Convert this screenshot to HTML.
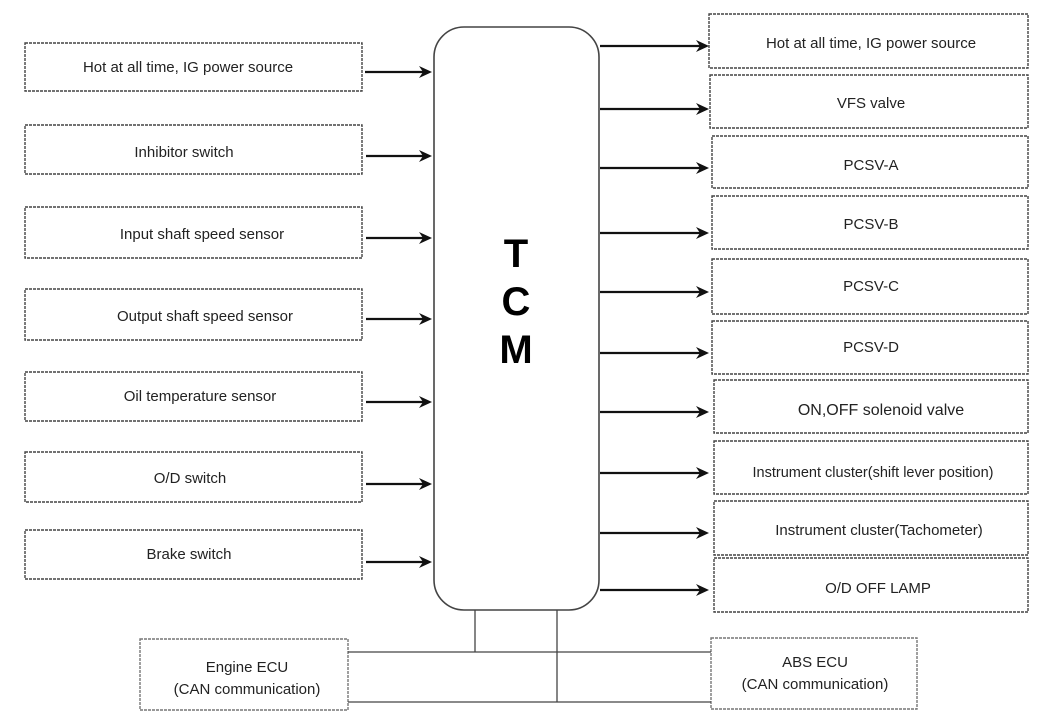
<!DOCTYPE html>
<html><head><meta charset="utf-8"><style>
html,body{margin:0;padding:0;background:#fff;}
svg{display:block;}
text{font-family:"Liberation Sans",Arial,sans-serif;fill:#222;}
</style></head><body>
<svg width="1050" height="721" viewBox="0 0 1050 721" xmlns="http://www.w3.org/2000/svg">
<g fill="#fff" stroke="#444" stroke-width="1.4" stroke-dasharray="3,1">
<rect x="25" y="43" width="337" height="48"/>
<rect x="25" y="125" width="337" height="49"/>
<rect x="25" y="207" width="337" height="51"/>
<rect x="25" y="289" width="337" height="51"/>
<rect x="25" y="372" width="337" height="49"/>
<rect x="25" y="452" width="337" height="50"/>
<rect x="25" y="530" width="337" height="49"/>
<rect x="709" y="14" width="319" height="54"/>
<rect x="710" y="75" width="318" height="53"/>
<rect x="712" y="136" width="316" height="52"/>
<rect x="712" y="196" width="316" height="53"/>
<rect x="712" y="259" width="316" height="55"/>
<rect x="712" y="321" width="316" height="53"/>
<rect x="714" y="380" width="314" height="53"/>
<rect x="714" y="441" width="314" height="53"/>
<rect x="714" y="501" width="314" height="54"/>
<rect x="714" y="558" width="314" height="54"/>
<rect x="140" y="639" width="208" height="71" stroke="#777"/>
<rect x="711" y="638" width="206" height="71" stroke="#777"/>
</g>
<rect x="434" y="27" width="165" height="583" rx="30" ry="30" fill="#fff" stroke="#444" stroke-width="1.6"/>
<g stroke="#111" stroke-width="2.2">
<line x1="365" y1="72" x2="424" y2="72"/>
<line x1="366" y1="156" x2="424" y2="156"/>
<line x1="366" y1="238" x2="424" y2="238"/>
<line x1="366" y1="319" x2="424" y2="319"/>
<line x1="366" y1="402" x2="424" y2="402"/>
<line x1="366" y1="484" x2="424" y2="484"/>
<line x1="366" y1="562" x2="424" y2="562"/>
<line x1="600" y1="46" x2="701" y2="46"/>
<line x1="600" y1="109" x2="701" y2="109"/>
<line x1="600" y1="168" x2="701" y2="168"/>
<line x1="600" y1="233" x2="701" y2="233"/>
<line x1="600" y1="292" x2="701" y2="292"/>
<line x1="600" y1="353" x2="701" y2="353"/>
<line x1="600" y1="412" x2="701" y2="412"/>
<line x1="600" y1="473" x2="701" y2="473"/>
<line x1="600" y1="533" x2="701" y2="533"/>
<line x1="600" y1="590" x2="701" y2="590"/>
</g>
<g fill="#111">
<path d="M432,72 l-13,-6 l4,6 l-4,6 Z"/>
<path d="M432,156 l-13,-6 l4,6 l-4,6 Z"/>
<path d="M432,238 l-13,-6 l4,6 l-4,6 Z"/>
<path d="M432,319 l-13,-6 l4,6 l-4,6 Z"/>
<path d="M432,402 l-13,-6 l4,6 l-4,6 Z"/>
<path d="M432,484 l-13,-6 l4,6 l-4,6 Z"/>
<path d="M432,562 l-13,-6 l4,6 l-4,6 Z"/>
<path d="M709,46 l-13,-6 l4,6 l-4,6 Z"/>
<path d="M709,109 l-13,-6 l4,6 l-4,6 Z"/>
<path d="M709,168 l-13,-6 l4,6 l-4,6 Z"/>
<path d="M709,233 l-13,-6 l4,6 l-4,6 Z"/>
<path d="M709,292 l-13,-6 l4,6 l-4,6 Z"/>
<path d="M709,353 l-13,-6 l4,6 l-4,6 Z"/>
<path d="M709,412 l-13,-6 l4,6 l-4,6 Z"/>
<path d="M709,473 l-13,-6 l4,6 l-4,6 Z"/>
<path d="M709,533 l-13,-6 l4,6 l-4,6 Z"/>
<path d="M709,590 l-13,-6 l4,6 l-4,6 Z"/>
</g>
<g stroke="#444" stroke-width="1.3" fill="none">
<line x1="475" y1="610" x2="475" y2="652"/>
<line x1="557" y1="610" x2="557" y2="702"/>
<line x1="348" y1="652" x2="711" y2="652"/>
<line x1="348" y1="702" x2="711" y2="702"/>
</g>
<g font-size="15" text-anchor="middle">
<text x="188" y="72">Hot at all time, IG power source</text>
<text x="184" y="157">Inhibitor switch</text>
<text x="202" y="239">Input shaft speed sensor</text>
<text x="205" y="321">Output shaft speed sensor</text>
<text x="200" y="401">Oil temperature sensor</text>
<text x="190" y="483">O/D switch</text>
<text x="189" y="559">Brake switch</text>
<text x="871" y="48">Hot at all time, IG power source</text>
<text x="871" y="108">VFS valve</text>
<text x="871" y="170">PCSV-A</text>
<text x="871" y="229">PCSV-B</text>
<text x="871" y="291">PCSV-C</text>
<text x="871" y="352">PCSV-D</text>
<text x="881" y="415" font-size="16">ON,OFF solenoid valve</text>
<text x="873" y="477" font-size="14.5">Instrument cluster(shift lever position)</text>
<text x="879" y="535">Instrument cluster(Tachometer)</text>
<text x="878" y="593">O/D OFF LAMP</text>
<text x="247" y="672">Engine ECU</text>
<text x="247" y="694">(CAN communication)</text>
<text x="815" y="667">ABS ECU</text>
<text x="815" y="689">(CAN communication)</text>
</g>
<g font-size="40" font-weight="bold" text-anchor="middle">
<text x="516" y="267" style="fill:#000">T</text>
<text x="516" y="315" style="fill:#000">C</text>
<text x="516" y="363" style="fill:#000">M</text>
</g>
</svg>
</body></html>
